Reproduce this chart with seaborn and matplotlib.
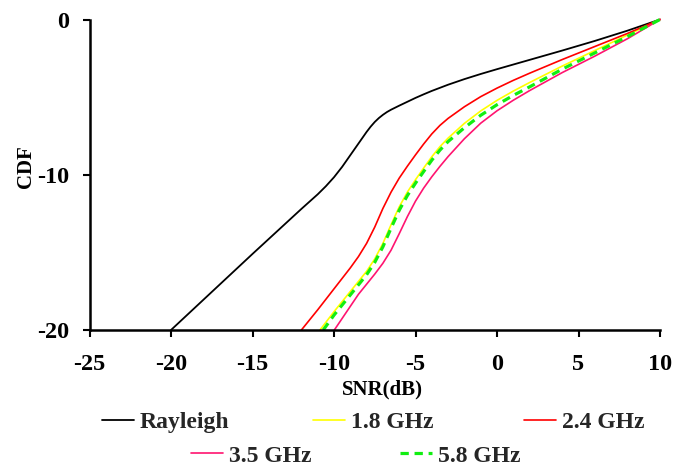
import matplotlib
matplotlib.use("Agg")
import matplotlib.pyplot as plt
import seaborn as sns

# ── Data ──────────────────────────────────────────────────────────────────────
rayleigh_x = [-20, -15, -12, -11, -10.5, -10, -9.5, -9, -8.5, -8, -7.75, -7.5,
              -7.25, -7, -6.75, -6.5, -6, -5.5, -5, -4.5, -4, -3, -2, -1, 0,
              2, 4, 6, 8, 10]
rayleigh_y = [-20, -15.1, -12.2, -11.26, -10.74, -10.16, -9.49, -8.74, -7.99,
              -7.24, -6.9, -6.6, -6.35, -6.14, -5.96, -5.81, -5.55, -5.3, -5.05,
              -4.82, -4.6, -4.2, -3.84, -3.51, -3.2, -2.6, -2.0, -1.38, -0.72, 0]

ghz18_x = [-10.86, -10, -9, -8, -7.5, -7, -6.5, -6, -5.5, -5, -4.5, -4, -3.5, -3,
           -2, -1, 0, 1, 2, 4, 6, 8, 10]
ghz18_y = [-20, -18.82, -17.52, -16.22, -15.42, -14.42, -13.22, -12.07, -11.12,
           -10.32, -9.57, -8.84, -8.19, -7.64, -6.69, -5.89, -5.21, -4.61, -4.06,
           -3.0, -2.0, -1.0, 0]

ghz24_x = [-12, -11, -10, -9, -8.5, -8, -7.5, -7, -6.5, -6, -5.5, -5, -4.5, -4,
           -3.5, -3, -2, -1, 0, 1, 2, 4, 6, 8, 10]
ghz24_y = [-20, -18.7, -17.35, -16.0, -15.27, -14.42, -13.37, -12.17, -11.12,
           -10.22, -9.45, -8.72, -8.02, -7.37, -6.82, -6.37, -5.62, -4.97, -4.42,
           -3.92, -3.46, -2.58, -1.74, -0.9, 0]

ghz35_x = [-9.98, -8.5, -7.5, -7, -6.5, -6, -5.5, -5, -4.5, -4, -3.5, -3, -2, -1,
           0, 1, 2, 4, 6, 8, 10]
ghz35_y = [-20, -17.7, -16.4, -15.7, -14.86, -13.8, -12.7, -11.7, -10.86, -10.13,
           -9.46, -8.83, -7.68, -6.68, -5.88, -5.2, -4.58, -3.42, -2.36, -1.24, 0]

ghz58_x = [-10.66, -10, -9, -8, -7.5, -7, -6.5, -6, -5.5, -5, -4.5, -4, -3.5, -3,
           -2, -1, 0, 1, 2, 4, 6, 8, 10]
ghz58_y = [-20, -19.04, -17.74, -16.44, -15.64, -14.64, -13.44, -12.29, -11.34,
           -10.54, -9.79, -9.06, -8.41, -7.86, -6.97, -6.17, -5.49, -4.89, -4.34,
           -3.2, -2.15, -1.1, 0]

x_ticks = [-25, -20, -15, -10, -5, 0, 5, 10]
y_ticks = [-20, -10, 0]

# ── Style ─────────────────────────────────────────────────────────────────────
sns.set_theme(style="ticks")
plt.rcParams["font.family"] = ["Liberation Serif", "DejaVu Serif"]
plt.rcParams["font.weight"] = "bold"

W, H = 689, 468
fig = plt.figure(figsize=(W / 100, H / 100), dpi=100)
ax = fig.add_axes([89.5 / W, (H - 330) / H, 570.5 / W, 310.5 / H])

series = [
    ("Rayleigh", rayleigh_x, rayleigh_y, "#000000", 1.3),
    ("1.8 GHz", ghz18_x, ghz18_y, "#FFFF00", 1.2),
    ("2.4 GHz", ghz24_x, ghz24_y, "#FF0000", 1.2),
    ("3.5 GHz", ghz35_x, ghz35_y, "#FF1470", 1.2),
    ("5.8 GHz", ghz58_x, ghz58_y, "#11EE11", 2.3),
]

handles = []
for name, xs, ys, col, lw in series:
    sns.lineplot(x=xs, y=ys, ax=ax, color=col, linewidth=lw,
                 sort=False, estimator=None, clip_on=False)
    line = ax.lines[-1]
    line.set_solid_joinstyle("round")
    if name == "5.8 GHz":
        line.set_dashes((2.6, 1.8))
    handles.append((line, name))

ax.set_xlim(-25, 10)
ax.set_ylim(-20, 0)
ax.set_xticks(x_ticks)
ax.set_yticks(y_ticks)
ax.set_xticklabels([str(v) for v in x_ticks])
ax.set_yticklabels([str(v) for v in y_ticks])

for side in ["top", "right"]:
    ax.spines[side].set_visible(False)
for side in ["left", "bottom"]:
    ax.spines[side].set_linewidth(1.8)
    ax.spines[side].set_color("black")

ax.tick_params(axis="both", direction="out", length=5, width=1.5,
               colors="black", labelsize=17.5)
ax.tick_params(axis="y", pad=9.5)
ax.tick_params(axis="x", pad=12)
for lab in ax.get_xticklabels() + ax.get_yticklabels():
    lab.set_fontweight("bold")

ax.set_xlabel("SNR(dB)", fontsize=15, fontweight="bold", color="black")
ax.set_ylabel("CDF", fontsize=15, fontweight="bold", color="black")
ax.xaxis.set_label_coords(0.513, -0.158)
ax.yaxis.set_label_coords(-0.094, 0.525)

# Excel-style legend: two centred rows, each entry placed on its own
legend_slots = [(102, 422), (313, 422), (524, 422), (191, 456), (400, 456)]
for (line, name), (px, py) in zip(handles, legend_slots):
    fig.legend([line], [name], loc="center left",
               bbox_to_anchor=(px / W, 1 - py / H), frameon=False,
               borderpad=0, borderaxespad=0, handlelength=1.35,
               handletextpad=0.25, prop={"size": 17, "weight": "bold"})

fig.savefig("out.png", dpi=100)
